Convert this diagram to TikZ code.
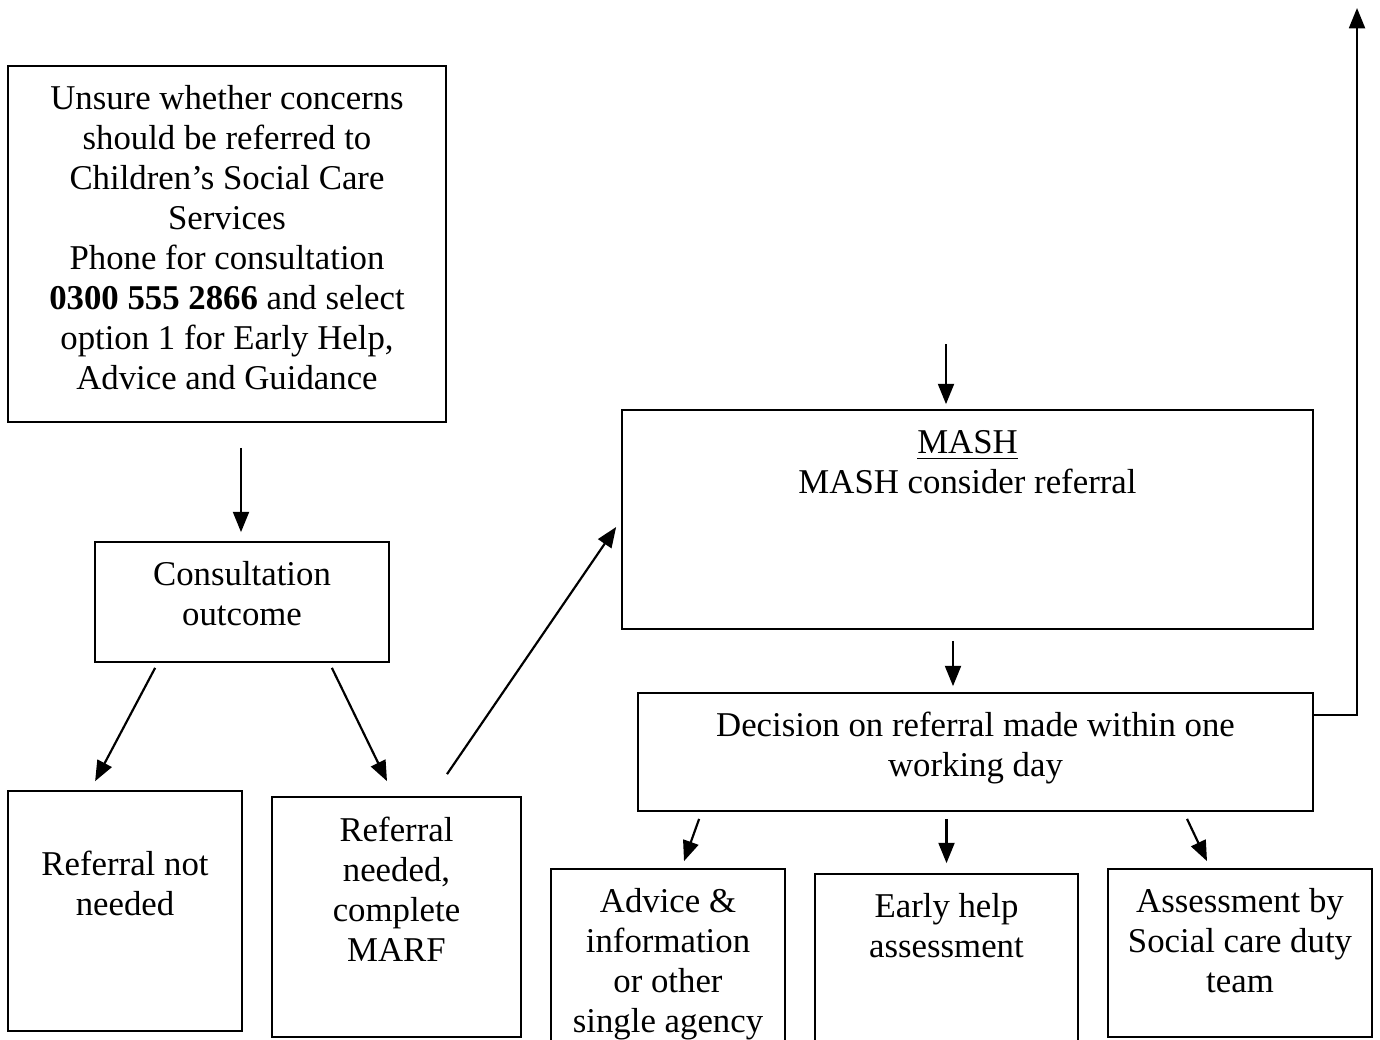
\documentclass[tikz,border=0pt]{standalone}
\usepackage{fontspec}
\setmainfont{Liberation Serif}
\usetikzlibrary{arrows.meta,calc,fit,positioning}

\begin{document}
\begin{tikzpicture}[x=0.345pt, y=-0.345pt,
    box/.style={draw, line width=0.6pt, inner sep=0pt},
    txt/.style={anchor=north, align=center, inner sep=0pt, font=\fontsize{12}{13.8}\selectfont},
    arr/.style={-{Triangle[length=7pt,width=5.5pt]}, line width=0.75pt}]
    \clip (0,0) rectangle (1380,1039);

    % Boxes
    \node[box, fit={(8,66) (446,422)}] (unsure) {};
    \node[box, fit={(95,542) (389,662)}] (outcome) {};
    \node[box, fit={(8,791) (242,1031)}] (notneeded) {};
    \node[box, fit={(272,797) (521,1037)}] (needed) {};
    \node[box, fit={(622,410) (1313,629)}] (mash) {};
    \node[box, fit={(638,693) (1313,811)}] (decision) {};
    \node[box, fit={(551,869) (785,1060)}] (advice) {};
    \node[box, fit={(815,874) (1078,1060)}] (earlyhelp) {};
    \node[box, fit={(1108,869) (1372,1037)}] (assess) {};

    % Texts
    \node[txt] (unsureT) at ($(unsure.north)+(0,20)$) {Unsure whether concerns\\ should be referred to\\ Children’s Social Care\\ Services\\ Phone for consultation\\ \textbf{0300 555 2866} and select\\ option 1 for Early Help,\\ Advice and Guidance};
    \node[txt] (outcomeT) at ($(outcome.north)+(0,20)$) {Consultation\\ outcome};
    \node[txt] (notneededT) at ($(notneeded.north)+(0,60)$) {Referral not\\ needed};
    \node[txt] (neededT) at ($(needed.north)+(0,20)$) {Referral\\ needed,\\ complete\\ MARF};
    \node[txt] (mashT) at ($(mash.north)+(0,21)$) {\underline{MASH}\\ MASH consider referral};
    \node[txt] (decisionT) at ($(decision.north)+(0,19)$) {Decision on referral made within one\\ working day};
    \node[txt] (adviceT) at ($(advice.north)+(0,20)$) {Advice \&\\ information\\ or other\\ single agency};
    \node[txt] (earlyhelpT) at ($(earlyhelp.north)+(0,20)$) {Early help\\ assessment};
    \node[txt] (assessT) at ($(assess.north)+(0,20)$) {Assessment by\\ Social care duty\\ team};

    % Free ends
    \coordinate (intoMash) at ($(mash.north)+(-21.5,-65)$);
    \coordinate (outTop) at (1357,8);

    % Arrows
    \draw[arr] ($(unsure.south)+(14,25)$) -- ($(outcome.north)+(-1,-9)$);
    \draw[arr] ($(outcome.south west)+(61,5)$) -- ($(notneeded.north west)+(88,-9)$);
    \draw[arr] ($(outcome.south east)+(-58,5)$) -- ($(needed.north)+(-9.5,-15)$);
    \draw[arr] ($(needed.north)+(50.5,-22)$) -- ($(mash.west)+(-5,7.5)$);
    \draw[arr] (intoMash) -- ($(mash.north)+(-21.5,-5)$);
    \draw[arr] ($(mash.south)+(-14.5,11)$) -- ($(decision.north)+(-22.5,-6)$);
    \draw[arr] ($(decision.north east)+(0,23)$) -| (outTop);
    \draw[arr] ($(decision.south west)+(62,7)$) -- ($(advice.north)+(16,-7)$);
    \draw[arr] ($(decision.south)+(-29,7)$) -- ($(earlyhelp.north)+(0,-10)$);
    \draw[arr] ($(decision.south)+(211.5,7)$) -- ($(assess.north)+(-33,-7)$);
\end{tikzpicture}
\end{document}
